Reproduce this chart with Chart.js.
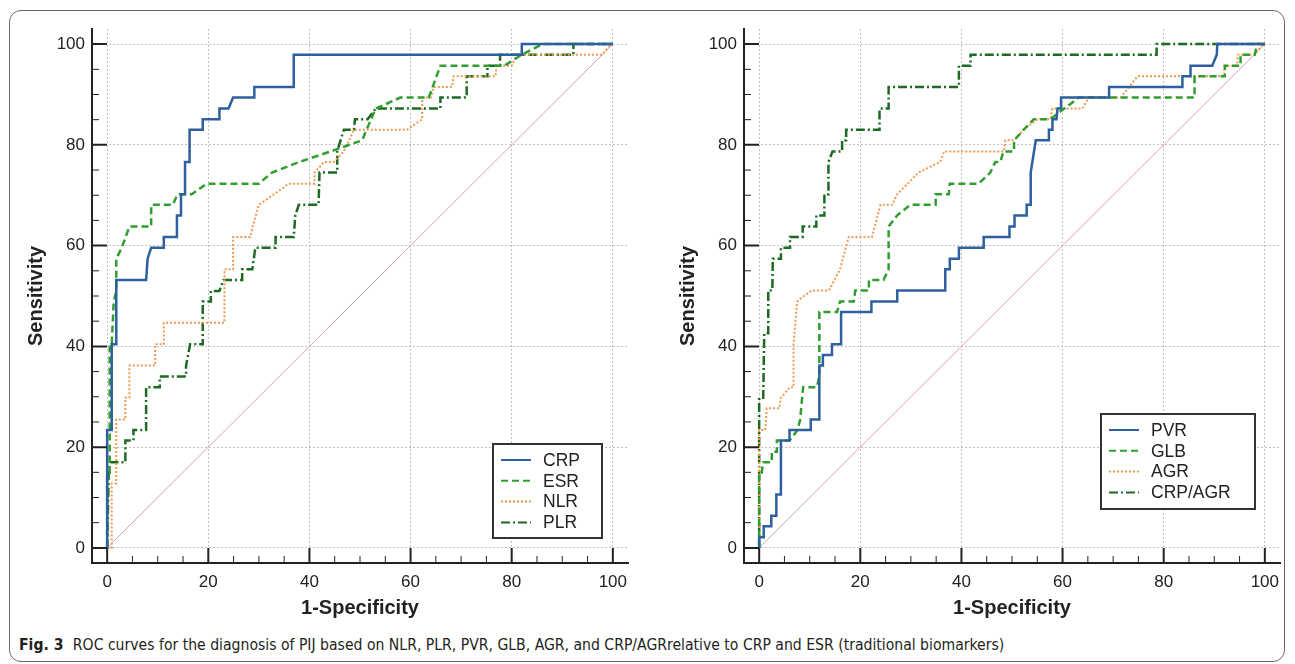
<!DOCTYPE html>
<html>
<head>
<meta charset="utf-8">
<script src="https://cdn.jsdelivr.net/npm/chart.js@4.4.0/dist/chart.umd.min.js"></script>
<style>
  html, body { margin: 0; padding: 0; background: #fff; }
  #page { position: relative; width: 1295px; height: 664px; overflow: hidden; }
  #frame { position: absolute; left: 9px; top: 10px; width: 1276px; height: 652px; border: 1.5px solid #666; border-radius: 12px; box-sizing: border-box; }
  #left { position: absolute; left: 0; top: 0; }
  #right { position: absolute; left: 652px; top: 0; }
  #caption { position: absolute; left: 19px; top: 636px; font-family: "DejaVu Sans Condensed", "Liberation Sans Narrow", sans-serif; font-size: 15.6px; color: #231f20; white-space: nowrap; }
  #caption b { font-weight: bold; margin-right: 5px; }
</style>
</head>
<body>
<div id="page">
  <div id="frame"></div>
  <canvas id="left" width="640" height="630"></canvas>
  <canvas id="right" width="640" height="630"></canvas>
  <div id="caption"><b>Fig. 3</b> ROC curves for the diagnosis of PIJ based on NLR, PLR, PVR, GLB, AGR, and CRP/AGRrelative to CRP and ESR (traditional biomarkers)</div>
</div>
<script>
// tick labels shared by both axes of both panels
const axisTicks = [0, 20, 40, 60, 80, 100];
const minorStep = 5;

// left panel: [1-specificity, sensitivity]
const crp = [[0,0],[0,23.4],[0.9,23.4],[0.9,40.4],[1.8,40.4],[1.8,53.2],[7.7,53.2],[8,57.4],[8.7,59.6],[11.2,59.6],[11.2,61.7],[13.8,61.7],[13.8,66],[14.6,66],[14.6,70.2],[15.4,70.2],[15.4,76.6],[16.3,76.6],[16.3,83],[18.9,83],[18.9,85.1],[22.2,85.1],[22.2,87.2],[24,87.2],[24.9,89.4],[29.1,89.4],[29.1,91.5],[36.9,91.5],[36.9,97.9],[82,97.9],[82,100],[100,100]];
const esr = [[0,0],[0,14.9],[0.5,14.9],[0.5,40.4],[0.9,40.4],[1.3,48.9],[1.8,51],[1.8,57.4],[2.9,59.6],[4.4,63.8],[8.7,63.8],[8.7,68.1],[13,68.1],[13.9,70.2],[16.7,70.2],[19.7,72.3],[30,72.3],[32.6,74.5],[38,76.6],[44.2,78.7],[50.4,80.9],[53.1,87.2],[58,89.4],[63.6,89.4],[65.9,95.7],[78.5,95.7],[82,97.9],[86.1,100],[100,100]];
const nlr = [[0,0],[0.9,0],[0.9,12.8],[1.8,12.8],[1.8,25.5],[3.6,25.5],[3.6,29.8],[4.4,29.8],[4.4,36.2],[9.5,36.2],[9.5,40.4],[11.2,40.4],[11.2,44.7],[23.2,44.7],[23.2,55.3],[24.9,55.3],[24.9,61.7],[28.3,61.7],[28.8,63.8],[30,68.1],[33,70.2],[35.9,72.3],[41,72.3],[41,74.5],[42.9,76.6],[44.8,76.6],[46.8,78.7],[48.8,83],[59.3,83],[62.3,85.1],[62.3,89.4],[64,89.4],[64.6,91.5],[68.2,91.5],[68.5,93.6],[76.8,93.6],[77,95.7],[80,95.7],[81,97.9],[97.9,97.9],[99.6,100],[100,100]];
const plr = [[0,0],[0.3,14.9],[0.6,17],[3.6,17],[3.6,21.3],[5.2,21.3],[5.2,23.4],[7.7,23.4],[7.7,31.9],[10.4,31.9],[10.4,34],[15.6,34],[15.6,36.2],[16.4,40.4],[18.9,40.4],[18.9,48.9],[20.5,48.9],[20.5,51],[22.2,51],[23,53.2],[26.7,53.2],[26.7,55.3],[28.7,55.3],[29,57.4],[29.3,59.6],[33.3,59.6],[33.3,61.7],[36.9,61.7],[37.2,66],[37.9,68.1],[41.8,68.1],[42,74.5],[45.5,74.5],[45.5,78.7],[46.8,83],[48.8,83],[49,85.1],[51.5,85.1],[53.1,87.2],[65.9,87.2],[65.9,89.4],[71.1,89.4],[71.1,93.6],[75.2,93.6],[75.2,95.7],[77.7,95.7],[77.7,97.9],[92.2,97.9],[92.2,100],[100,100]];

// right panel
const pvr = [[0,0],[0,2.1],[0.9,2.1],[0.9,4.3],[2.4,4.3],[2.4,6.4],[3.4,6.4],[3.4,10.6],[4.3,10.6],[4.3,21.3],[6,21.3],[6,23.4],[10.2,23.4],[10.2,25.5],[11.9,25.5],[11.9,36.2],[12.6,36.2],[12.6,38.3],[14.4,38.3],[14.4,40.4],[16.2,40.4],[16.2,46.8],[22.2,46.8],[22.2,48.9],[27.3,48.9],[27.3,51.1],[36.8,51.1],[36.8,55.3],[37.7,55.3],[37.7,57.4],[39.5,57.4],[39.5,59.6],[44.4,59.6],[44.4,61.7],[49.5,61.7],[49.5,63.8],[50.5,63.8],[50.5,66],[52.9,66],[52.9,68.1],[53.7,68.1],[53.7,74.5],[54.7,80.9],[57.3,80.9],[57.3,83],[58,83],[58,85.1],[58.8,85.1],[59,87.2],[59.7,87.2],[59.7,89.4],[69.2,89.4],[69.2,91.5],[83.7,91.5],[83.7,93.6],[85.3,93.6],[85.3,95.7],[89.6,95.7],[90.5,97.9],[90.6,100],[100,100]];
const glb = [[0,0],[0,14.9],[0.5,14.9],[0.8,17],[2.5,17],[2.5,19.1],[3.5,19.1],[3.5,21.3],[6,21.3],[7.6,23.4],[8.1,25.5],[8.7,31.9],[11.4,31.9],[11.9,34],[11.9,46.8],[15.4,46.8],[16,48.9],[18.7,48.9],[19,51.1],[21.7,51.1],[21.7,53.2],[24.6,53.2],[25.6,55.3],[25.6,63.8],[27.3,66],[29.9,68.1],[34.9,68.1],[34.9,70.2],[37.5,70.2],[37.7,72.3],[43.4,72.3],[45.7,74.5],[46.7,76.6],[47.7,76.6],[48.3,78.7],[50.4,78.7],[50.4,80.9],[52.3,83],[54.3,85.1],[57.6,85.1],[63.2,89.4],[86.1,89.4],[86.1,93.6],[92.1,93.6],[92.1,95.7],[95.2,95.7],[95.2,97.9],[98,97.9],[98.5,100],[100,100]];
const agr = [[0,0],[0,23.4],[1.2,23.4],[1.5,27.7],[4,27.7],[4.3,29.8],[6.1,31.9],[6.8,31.9],[6.8,40.4],[7.5,48.9],[8.2,49.5],[10.4,51.1],[13.8,51.1],[16,55.3],[17.7,61.7],[22.3,61.7],[24,68.1],[26.3,68.1],[27.3,70.2],[31.5,74.5],[35.8,76.6],[36.6,78.7],[48.4,78.7],[48.7,80.9],[50.4,80.9],[52.3,83],[55,85.1],[57.6,85.1],[58,87.2],[63.9,87.2],[65.2,89.4],[71.5,89.4],[74.8,93.6],[92,93.6],[92,95.7],[94.5,95.7],[94.7,97.9],[98,97.9],[99.6,100],[100,100]];
const crpAgr = [[0,0],[0,29.8],[0.8,29.8],[1,42.6],[1.8,42.6],[1.8,51.1],[2.6,51.1],[2.7,57.4],[4.3,57.4],[4.3,59.6],[6.1,59.6],[6.1,61.7],[8.6,61.7],[8.6,63.8],[11.3,63.8],[11.3,66],[12.9,66],[12.9,70.2],[13.7,70.2],[13.7,76.6],[14.5,78.7],[16.4,78.7],[16.4,80.9],[17.2,80.9],[17.2,83],[23.8,83],[23.8,87.2],[25.6,87.2],[25.6,91.5],[39.5,91.5],[39.5,95.7],[41.8,95.7],[41.8,97.9],[78.6,97.9],[78.6,100],[100,100]];

const chance = [[0,0],[100,100]];

const leftLabels = ['CRP', 'ESR', 'NLR', 'PLR'];
const rightLabels = ['PVR', 'GLB', 'AGR', 'CRP/AGR'];

const styles = [
  { color: '#2e5f9f', width: 2.5, dash: [] },
  { color: '#2f9e2f', width: 2.5, dash: [7, 4] },
  { color: '#ee9a50', width: 2, dash: [2, 2] },
  { color: '#1d6a22', width: 2.5, dash: [9, 3, 2, 3] }
];

Chart.defaults.font.family = '"Liberation Sans", Arial, sans-serif';
Chart.defaults.color = '#222';

const toXY = arr => arr.map(p => ({ x: p[0], y: p[1] }));

// tick marks pointing inwards from the axis lines
const innerTicks = {
  id: 'innerTicks',
  afterDraw(chart) {
    const { ctx, chartArea: a, scales: { x, y } } = chart;
    ctx.save();
    ctx.strokeStyle = '#222';
    for (let v = 0; v <= 100; v += minorStep) {
      const major = axisTicks.includes(v);
      const len = major ? 15 : 7;
      ctx.lineWidth = major ? 2 : 1;
      const px = x.getPixelForValue(v);
      const py = y.getPixelForValue(v);
      ctx.beginPath();
      ctx.moveTo(px, a.bottom);
      ctx.lineTo(px, a.bottom - len);
      ctx.moveTo(a.left, py);
      ctx.lineTo(a.left + len, py);
      ctx.stroke();
    }
    ctx.restore();
  }
};

// boxed legend inside the plot
const boxLegend = {
  id: 'boxLegend',
  afterDatasetsDraw(chart, args, opts) {
    const { ctx, chartArea: a } = chart;
    const left = a.right - opts.right - opts.width;
    const top = a.bottom - opts.bottom - opts.height;
    ctx.save();
    ctx.fillStyle = '#fff';
    ctx.fillRect(left, top, opts.width, opts.height);
    ctx.strokeStyle = '#333';
    ctx.lineWidth = 2;
    ctx.strokeRect(left, top, opts.width, opts.height);
    ctx.font = '17.5px "Liberation Sans", Arial, sans-serif';
    ctx.textBaseline = 'middle';
    ctx.fillStyle = '#222';
    let row = 0;
    chart.data.datasets.forEach(ds => {
      if (!ds.label) return;
      const yy = top + 16 + row * 20.8;
      ctx.strokeStyle = ds.borderColor;
      ctx.lineWidth = 2;
      ctx.setLineDash(ds.borderDash || []);
      ctx.beginPath();
      ctx.moveTo(left + 8, yy);
      ctx.lineTo(left + 38, yy);
      ctx.stroke();
      ctx.setLineDash([]);
      ctx.fillText(ds.label, left + 50, yy + 1);
      row++;
    });
    ctx.restore();
  }
};

function axis(pos, title) {
  return {
    type: 'linear',
    position: pos,
    min: -3,
    max: 103,
    afterBuildTicks: s => { s.ticks = axisTicks.map(v => ({ value: v })); },
    afterFit: s => { if (pos === 'left') s.width = 92; else s.height = 67; },
    grid: { color: '#c2c2c2', lineWidth: 1, drawTicks: false },
    border: { display: true, color: '#222', width: 2, dash: [2, 2] },
    ticks: { color: '#222', font: { size: 17 }, padding: pos === 'left' ? 7 : 9 },
    title: {
      display: true,
      text: title,
      color: '#222',
      font: { size: 20, weight: 'bold' },
      padding: pos === 'left' ? { top: 24 } : { bottom: 10 }
    }
  };
}

function makeChart(id, series, labels, legendBox) {
  const datasets = series.map((s, i) => ({
    label: labels[i],
    data: toXY(s),
    borderColor: styles[i].color,
    borderWidth: styles[i].width,
    borderDash: styles[i].dash,
    pointRadius: 0,
    tension: 0,
    fill: false
  }));
  datasets.push({
    label: '',
    data: toXY(chance),
    borderColor: '#d2a6ae',
    borderWidth: 1,
    pointRadius: 0,
    fill: false
  });
  return new Chart(document.getElementById(id), {
    type: 'line',
    data: { datasets },
    options: {
      responsive: false,
      animation: false,
      layout: { padding: { left: 0, top: 29, right: 12, bottom: 0 } },
      scales: {
        x: axis('bottom', '1-Specificity'),
        y: axis('left', 'Sensitivity')
      },
      plugins: {
        legend: { display: false },
        tooltip: { enabled: false },
        boxLegend: legendBox
      }
    },
    plugins: [innerTicks, boxLegend]
  });
}

makeChart('left', [crp, esr, nlr, plr], leftLabels, { right: 26, bottom: 25, width: 109, height: 94 });
makeChart('right', [pvr, glb, agr, crpAgr], rightLabels, { right: 25, bottom: 54, width: 154, height: 95 });
</script>
</body>
</html>
